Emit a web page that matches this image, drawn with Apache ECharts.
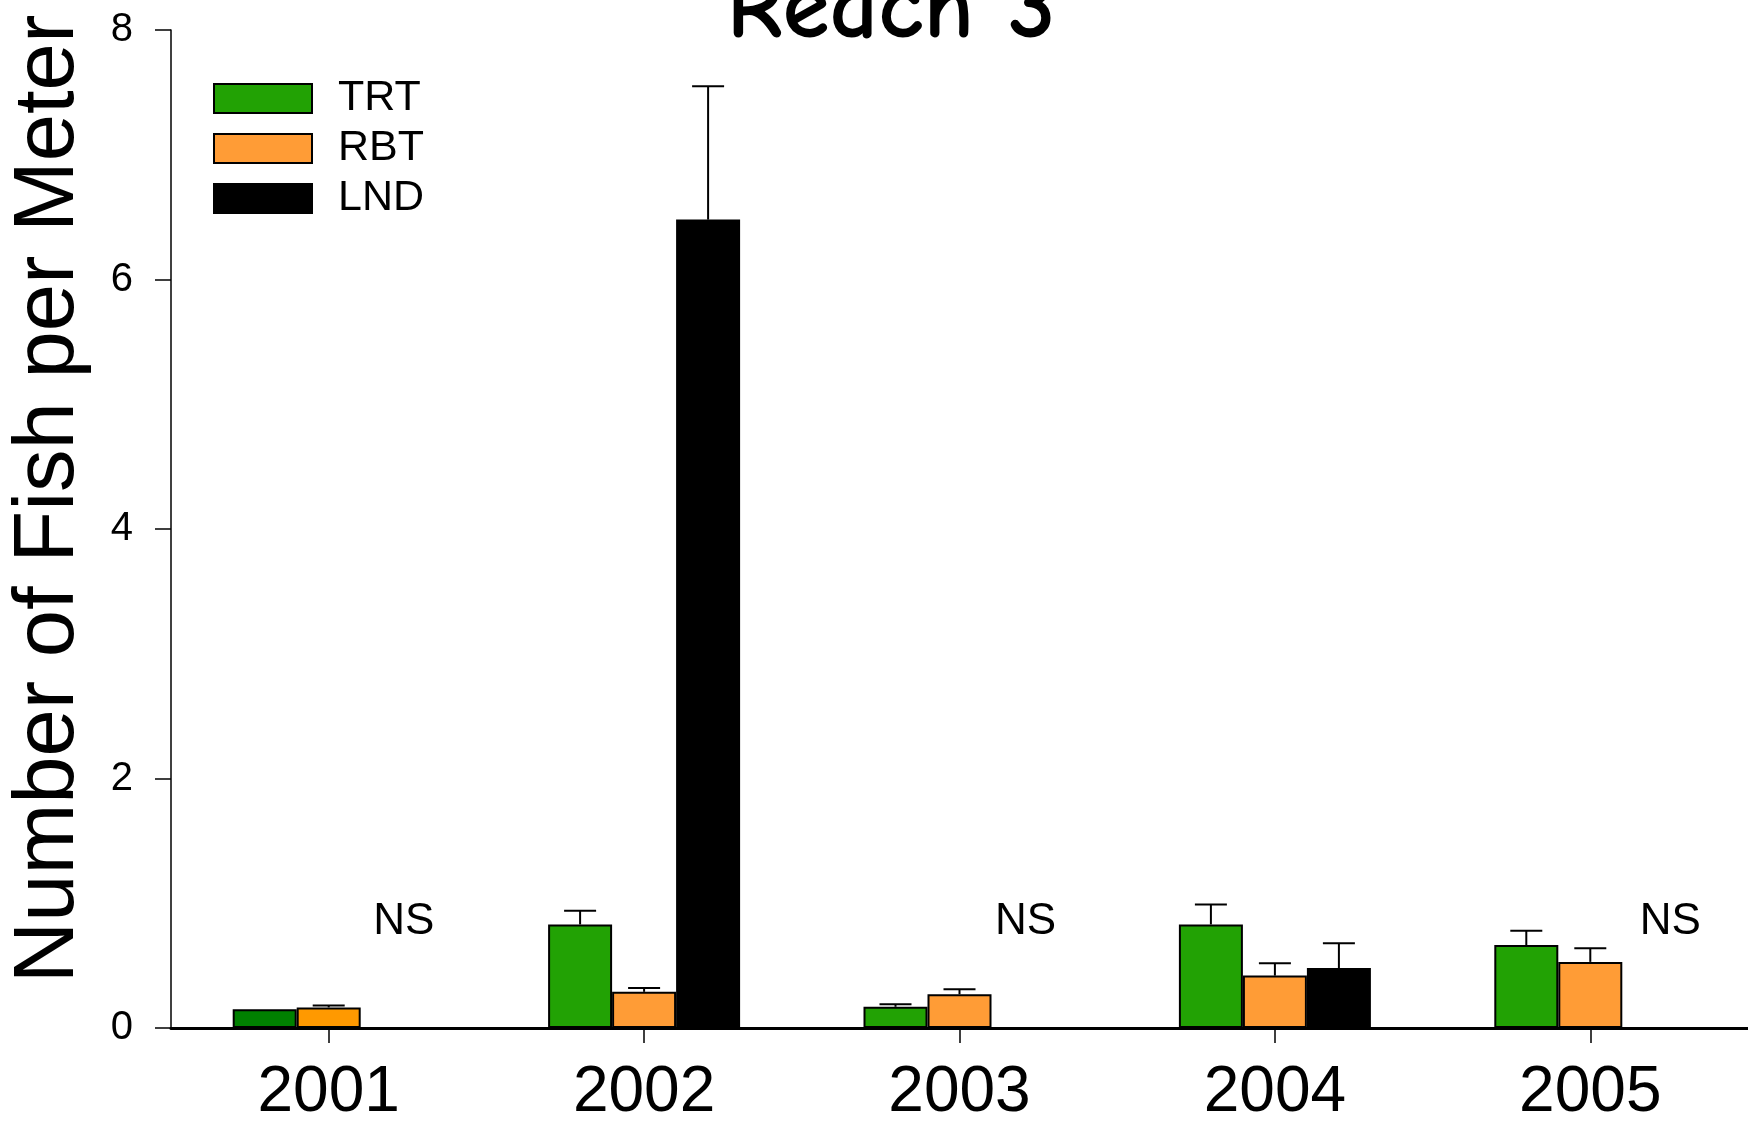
<!DOCTYPE html>
<html>
<head>
<meta charset="utf-8">
<title>Reach 3</title>
<script src="https://cdn.jsdelivr.net/npm/echarts@6/dist/echarts.min.js"></script>
<style>
  html, body { margin: 0; padding: 0; background: #fff; }
  #chart { width: 1748px; height: 1125px; }
</style>
</head>
<body>
<div id="chart"></div>
<script>
  // data
  var years = ['2001', '2002', '2003', '2004', '2005'];
  var yTicks = [0, 2, 4, 6, 8];
  var trt = [0.15, 0.83, 0.17, 0.83, 0.665];
  var trtUpper = [0.15, 0.94, 0.19, 0.99, 0.78];
  var rbt = [0.165, 0.29, 0.27, 0.42, 0.53];
  var rbtUpper = [0.18, 0.32, 0.31, 0.52, 0.64];
  var lnd = ['-', 6.48, '-', 0.48, '-'];
  var lndUpper = ['-', 7.55, '-', 0.68, '-'];
  var nsYears = ['2001', '2003', '2005'];
  var nsLevel = 0.85;

  var font = '"Liberation Sans", Arial, Helvetica, sans-serif';
  var barW = 64;

  function errData(vals, ups) {
    var out = [];
    for (var i = 0; i < vals.length; i++) {
      if (vals[i] === '-' || ups[i] === '-') continue;
      out.push([i, vals[i], ups[i]]);
    }
    return out;
  }

  function errSeries(name, vals, ups, shift) {
    return {
      name: name + ' err',
      type: 'custom',
      z: 5,
      data: errData(vals, ups),
      encode: { x: 0, y: [1, 2] },
      renderItem: function (params, api) {
        var i = api.value(0);
        var lo = api.coord([i, api.value(1)]);
        var hi = api.coord([i, api.value(2)]);
        var x = lo[0] + shift * barW;
        if (Math.abs(hi[1] - lo[1]) < 1) return null;
        return {
          type: 'group',
          children: [
            { type: 'line', shape: { x1: x, y1: lo[1], x2: x, y2: hi[1] }, style: { stroke: '#000', lineWidth: 2 } },
            { type: 'line', shape: { x1: x - 16, y1: hi[1], x2: x + 16, y2: hi[1] }, style: { stroke: '#000', lineWidth: 2 } }
          ]
        };
      }
    };
  }

  // 2001 bars were drawn in slightly different shades
  var trtData = trt.map(function (v, i) {
    return i === 0 ? { value: v, itemStyle: { color: '#008000' } } : v;
  });
  var rbtData = rbt.map(function (v, i) {
    return i === 0 ? { value: v, itemStyle: { color: '#ff9900' } } : v;
  });

  var myChart = echarts.init(document.getElementById('chart'));
  var option = {
    backgroundColor: '#fff',
    animation: false,
    grid: { left: 171, right: 0, top: 30, bottom: 97, containLabel: false },
    graphic: [
      {
        type: 'text', x: 891, y: 58,
        style: {
          text: 'Reach 3', align: 'center', verticalAlign: 'bottom',
          font: 'bold 96px "Comic Sans MS", "Comic Neue", "DejaVu Sans", sans-serif', fill: '#000'
        }
      },
      {
        type: 'text', x: 50, y: 499, rotation: Math.PI / 2,
        style: {
          text: 'Number of Fish per Meter', align: 'center', verticalAlign: 'middle',
          font: '85px ' + font, fill: '#000'
        }
      }
    ],
    legend: {
      orient: 'vertical', left: 213, top: 77, padding: 0,
      itemWidth: 98, itemHeight: 29, itemGap: 7,
      icon: 'rect',
      data: ['TRT', 'RBT', 'LND'],
      textStyle: { fontFamily: font, fontSize: 43, color: '#000', lineHeight: 29, padding: [0, 0, 0, 21] }
    },
    xAxis: {
      type: 'category',
      data: years,
      axisLine: { show: true, lineStyle: { color: '#000', width: 3 } },
      axisTick: { show: true, alignWithLabel: true, length: 15, lineStyle: { color: '#000', width: 1.5 } },
      axisLabel: { fontFamily: font, fontSize: 64, color: '#000', margin: 33 },
      splitLine: { show: false }
    },
    yAxis: {
      type: 'value',
      min: yTicks[0], max: yTicks[yTicks.length - 1], interval: yTicks[1] - yTicks[0],
      axisLine: { show: true, lineStyle: { color: '#000', width: 1.5 } },
      axisTick: { show: true, length: 16, lineStyle: { color: '#000', width: 1.5 } },
      axisLabel: { fontFamily: font, fontSize: 40, color: '#000', margin: 38 },
      splitLine: { show: false }
    },
    series: [
      {
        name: 'TRT', type: 'bar', data: trtData, barWidth: barW, barGap: '0%',
        itemStyle: { color: '#22a204', borderColor: '#000', borderWidth: 2 }
      },
      {
        name: 'RBT', type: 'bar', data: rbtData, barWidth: barW, barGap: '0%',
        itemStyle: { color: '#ff9c36', borderColor: '#000', borderWidth: 2 }
      },
      {
        name: 'LND', type: 'bar', data: lnd, barWidth: barW, barGap: '0%',
        itemStyle: { color: '#000', borderColor: '#000', borderWidth: 2 },
        markPoint: {
          symbolSize: 0,
          label: { show: true, formatter: 'NS', fontFamily: font, fontSize: 44, color: '#000', position: 'inside' },
          data: nsYears.map(function (y, k) {
            return { coord: [y, nsLevel], label: { offset: [[11, 2, 16][k], 0] } };
          })
        }
      },
      errSeries('TRT', trt, trtUpper, -1),
      errSeries('RBT', rbt, rbtUpper, 0),
      errSeries('LND', lnd, lndUpper, 1)
    ]
  };
  option && myChart.setOption(option);
</script>
</body>
</html>
